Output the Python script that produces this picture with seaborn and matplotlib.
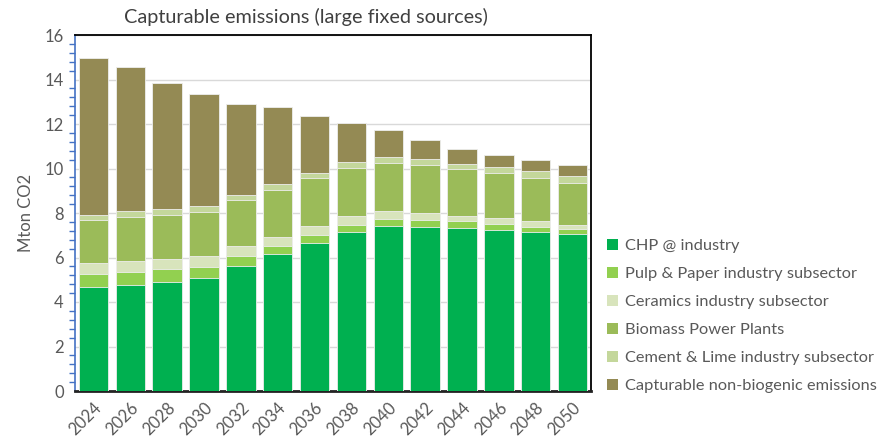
import numpy as np
import pandas as pd
import matplotlib
matplotlib.use("Agg")
import matplotlib.pyplot as plt
import seaborn as sns
from matplotlib.patches import Patch
from matplotlib.ticker import MultipleLocator

# Data (Mton CO2)
years = ["2024", "2026", "2028", "2030", "2032", "2034", "2036",
         "2038", "2040", "2042", "2044", "2046", "2048", "2050"]
chp = [4.67, 4.75, 4.90, 5.09, 5.63, 6.17, 6.67, 7.13, 7.43, 7.39, 7.33, 7.24, 7.13, 7.04]
pulp = [0.57, 0.61, 0.58, 0.50, 0.44, 0.35, 0.36, 0.33, 0.30, 0.31, 0.29, 0.27, 0.26, 0.24]
ceramics = [0.50, 0.50, 0.45, 0.46, 0.45, 0.42, 0.37, 0.41, 0.36, 0.30, 0.26, 0.27, 0.23, 0.18]
biomass = [1.95, 1.96, 2.00, 1.99, 2.06, 2.09, 2.19, 2.17, 2.17, 2.16, 2.08, 2.00, 1.97, 1.90]
cement = [0.22, 0.27, 0.24, 0.27, 0.24, 0.29, 0.22, 0.25, 0.27, 0.25, 0.26, 0.29, 0.30, 0.29]
nonbio = [7.07, 6.47, 5.67, 5.04, 4.06, 3.44, 2.54, 1.74, 1.20, 0.86, 0.66, 0.54, 0.49, 0.49]

series = ["CHP @ industry", "Pulp & Paper industry subsector", "Ceramics industry subsector",
          "Biomass Power Plants", "Cement & Lime industry subsector",
          "Capturable non-biogenic emissions"]
colors = ["#00B050", "#92D050", "#D8E4BC", "#9BBB59", "#C4D79B", "#948A54"]

df = pd.DataFrame({"year": years, series[0]: chp, series[1]: pulp, series[2]: ceramics,
                   series[3]: biomass, series[4]: cement, series[5]: nonbio})
cum = df[series].cumsum(axis=1)

sns.set_style("white")
plt.rcParams["font.family"] = ["Lato", "DejaVu Sans"]

fig = plt.figure(figsize=(8.82, 4.48), dpi=100)
ax = fig.add_axes([75 / 882, 1 - 391 / 448, (591 - 75) / 882, (391 - 35) / 448])

# stacked bars: draw cumulative totals from the top layer down
for name, col in reversed(list(zip(series, colors))):
    sns.barplot(x=df["year"], y=cum[name], color=col, width=0.8, ax=ax,
                edgecolor="#EEEEEE", linewidth=0.6, saturation=1, zorder=3)

ax.set_ylim(0, 16)
ax.set_xlim(-0.5, 13.5)
ax.yaxis.set_major_locator(MultipleLocator(2))
ax.yaxis.set_minor_locator(MultipleLocator(0.4))
ax.grid(axis="y", color="#D9D9D9", linewidth=1, zorder=0)
ax.set_axisbelow(True)

for side in ["top", "right"]:
    ax.spines[side].set_color("black")
    ax.spines[side].set_linewidth(1.3)
ax.spines["bottom"].set_color("#222222")
ax.spines["bottom"].set_linewidth(2)
ax.spines["left"].set_color("#4472C4")
ax.spines["left"].set_linewidth(1.2)

ax.tick_params(axis="y", which="major", direction="inout", length=8, width=1.2,
               color="#4472C4", labelsize=12, labelcolor="#595959", pad=4)
ax.tick_params(axis="y", which="minor", direction="out", length=4, width=1,
               color="#4472C4", left=True)
ax.tick_params(axis="x", length=0, labelsize=12, labelcolor="#595959", pad=6)
plt.setp(ax.get_xticklabels(), rotation=45, ha="right", rotation_mode="anchor")

ax.set_xlabel("")
ax.set_ylabel("Mton CO2", fontsize=12, color="#595959", labelpad=8)

fig.text(306 / 882, 1 - 17 / 448, "Capturable emissions (large fixed sources)",
         ha="center", va="center", fontsize=14.3, color="#404040")

handles = [Patch(facecolor=c, edgecolor="none", label=s) for s, c in zip(series, colors)]
fig.legend(handles=handles, loc="center left", bbox_to_anchor=(592 / 882, 1 - 316 / 448),
           frameon=False, fontsize=11.8, labelcolor="#595959", handlelength=0.7,
           handleheight=0.7, handletextpad=0.4, labelspacing=0.82)

fig.savefig("out.png", dpi=100)
